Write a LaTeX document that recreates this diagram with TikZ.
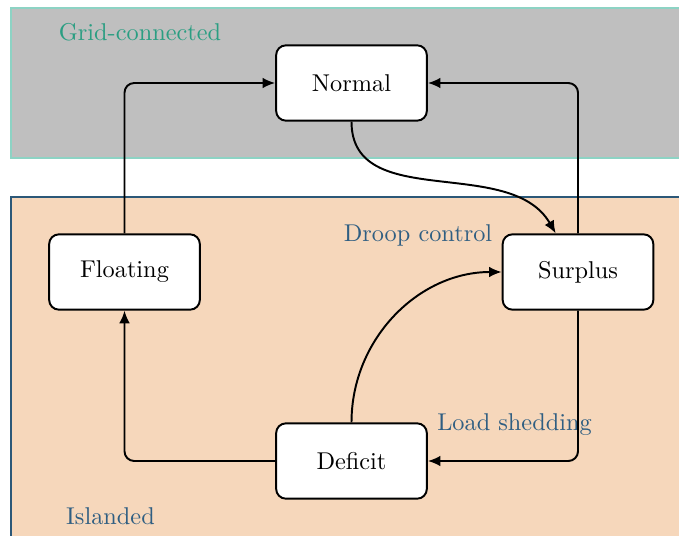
\documentclass[tikz,border=0pt]{standalone}
\usetikzlibrary{arrows.meta}

\definecolor{gridfill}{HTML}{BFBFBF}
\definecolor{gridline}{HTML}{8DD3C4}
\definecolor{gridtext}{HTML}{2A9E82}
\definecolor{islfill}{HTML}{F6D7BB}
\definecolor{islline}{HTML}{2C5878}
\definecolor{isltext}{HTML}{2F5E82}

\tikzset{
  state/.style={draw=black, line width=0.8pt, fill=white, rounded corners=4pt,
    minimum width=62pt, minimum height=31pt, inner sep=0pt},
  link/.style={line width=0.8pt, -{Latex[length=5.2pt,width=4.4pt]}},
  zone/.style={line width=0.8pt},
}

\begin{document}
\begin{tikzpicture}[x=0.4115pt, y=0.4115pt]
  \useasboundingbox (0,0) rectangle (679,535);
  \clip (0,0) rectangle (679,535);

  % operating zones
  \draw[zone, draw=gridline, fill=gridfill] (11,527) rectangle (700,377);
  \draw[zone, draw=islline, fill=islfill] (11,338) rectangle (700,-20);

  \node[text=gridtext] (gridlbl) at (140,503) {Grid-connected};
  \node[text=isltext] (isllbl) at (110.5,19) {Islanded};

  % states
  \node[state] (normal)   at (351.5,452) {Normal};
  \node[state] (floating) at (124.5,263) {Floating};
  \node[state] (surplus)  at (578,263)   {Surplus};
  \node[state] (deficit)  at (351.5,74)  {Deficit};

  \node[text=isltext] (droop) at (418,300) {Droop control};
  \node[text=isltext] (shed)  at (514.5,110) {Load shedding};

  % transitions
  \draw[link, rounded corners=4pt] (floating.north) |- (normal.west);
  \draw[link, rounded corners=4pt] (surplus.north) |- (normal.east);
  \draw[link] (normal.south) to[out=-90, in=120] (surplus.120);
  \draw[link] (deficit.north) to[out=90, in=180] (surplus.west);
  \draw[link, rounded corners=4pt] (surplus.south) |- (deficit.east);
  \draw[link, rounded corners=4pt] (deficit.west) -| (floating.south);
\end{tikzpicture}
\end{document}
